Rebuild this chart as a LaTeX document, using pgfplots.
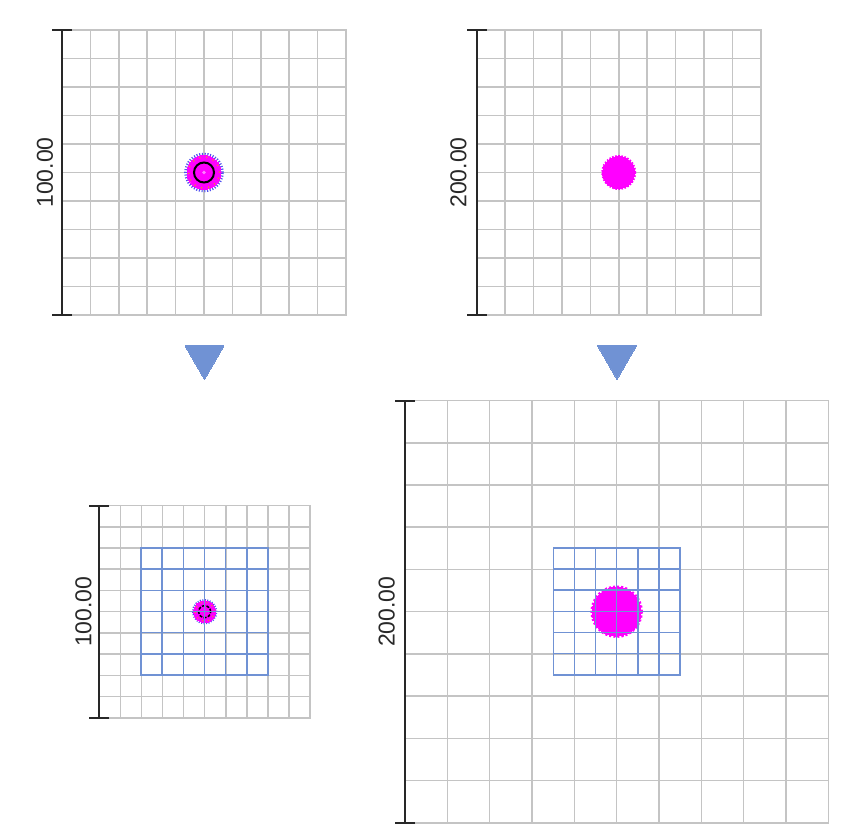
\documentclass[border=0pt]{standalone}
\usepackage{pgfplots}
\pgfplotsset{compat=1.18}
\usepackage{fontspec}
\setmainfont{Liberation Sans}
\definecolor{gridgray}{RGB}{196,196,196}
\definecolor{tri}{RGB}{112,146,212}
\definecolor{barblk}{RGB}{40,40,40}
\definecolor{spikeblue}{RGB}{80,80,240}
\definecolor{mag}{RGB}{255,0,255}
\definecolor{fleck}{RGB}{240,140,40}
\pgfplotsset{
 panel/.style={scale only axis, anchor=south west, clip=false,
   xmin=0,xmax=100,ymin=0,ymax=100,
   xtick={0,10,...,100}, ytick={0,10,...,100},
   xticklabels={}, yticklabels={},
   major tick length=0pt, tick style={draw=none},
   grid=major, major grid style={gridgray, line width=1.6pt},
   axis line style={gridgray, line width=1.6pt},
   ylabel style={anchor=south, inner sep=0pt, font=\fontsize{23}{27}\selectfont, text=barblk}},
 bluegrid/.style={scale only axis, anchor=south west, clip=false,
   xmin=0,xmax=6,ymin=0,ymax=6, xtick={0,...,6}, ytick={0,...,6},
   xticklabels={}, yticklabels={}, major tick length=0pt, tick style={draw=none},
   grid=major, major grid style={tri, line width=1.6pt},
   axis line style={tri, line width=1.6pt}},
 scalebar/.style={barblk, line width=1.9pt, mark=-, mark size=10pt, mark options={solid}},
}
\begin{document}
\begin{tikzpicture}
\useasboundingbox (0pt,0pt) rectangle (848pt,838pt);
% full canvas for the arrows
\begin{axis}[scale only axis, at={(0pt,0pt)}, anchor=south west, width=848pt, height=838pt,
  xmin=0,xmax=848,ymin=0,ymax=838, hide axis, clip=false]
\addplot[only marks, mark=triangle*, mark size=22.5pt, mark options={rotate=180, fill=tri, draw=tri, line width=0pt}] coordinates {(204.5,481) (617,481)};
\end{axis}

% Panel A
\begin{axis}[panel, at={(62pt,523pt)}, width=284pt, height=285pt, ylabel={100.00},
  ylabel style={at={(axis description cs:-0.031,0.5)}}]
\addplot[scalebar] coordinates {(0,0) (0,100)};
\addplot[only marks, mark=o, mark size=18.3pt, mark options={draw=spikeblue, line width=3pt, dash pattern=on 1.1pt off 1.6pt}] coordinates {(50,50)};
\addplot[only marks, mark=*, mark size=17pt, mark options={draw=mag, fill=mag, line width=0pt}] coordinates {(50,50)};
\addplot[only marks, mark=o, mark size=15.5pt, mark options={draw=fleck, line width=1.5pt, dash pattern=on 1pt off 6pt}] coordinates {(50,50)};
\addplot[only marks, mark=o, mark size=10pt, mark options={draw=black, line width=2pt}] coordinates {(50,50)};
\addplot[only marks, mark=*, mark size=1.5pt, mark options={draw=mag!50, fill=mag!50}] coordinates {(50,50)};
\end{axis}

% Panel B
\begin{axis}[panel, at={(476.7pt,523pt)}, width=284pt, height=285pt, ylabel={200.00},
  ylabel style={at={(axis description cs:-0.035,0.5)}}]
\addplot[scalebar] coordinates {(0,0) (0,100)};
\addplot[only marks, mark=o, mark size=16pt, mark options={draw=mag, line width=3pt, dash pattern=on 1.5pt off 1.5pt}] coordinates {(50,50)};
\addplot[only marks, mark=*, mark size=16pt, mark options={draw=mag, fill=mag, line width=0pt}] coordinates {(50,50)};
\end{axis}

% Panel C
\begin{axis}[panel, at={(99.3pt,120.3pt)}, width=210.7pt, height=212pt, ylabel={100.00},
  ylabel style={at={(axis description cs:-0.036,0.5)}}]
\addplot[scalebar] coordinates {(0,0) (0,100)};
\addplot[only marks, mark=o, mark size=11.5pt, mark options={draw=spikeblue, line width=2.5pt, dash pattern=on 1pt off 1.4pt}] coordinates {(50,50)};
\addplot[only marks, mark=*, mark size=11pt, mark options={draw=mag, fill=mag, line width=0pt}] coordinates {(50,50)};
\addplot[only marks, mark=o, mark size=9.5pt, mark options={draw=fleck, line width=1.2pt, dash pattern=on 1pt off 5pt}] coordinates {(50,50)};
\addplot[only marks, mark=o, mark size=6pt, mark options={draw=black, line width=1.5pt, dash pattern=on 3pt off 1.5pt}] coordinates {(50,50)};
\end{axis}
\begin{axis}[bluegrid, at={(141pt,163pt)}, width=127pt, height=127pt]
\end{axis}

% Panel D
\begin{axis}[panel, at={(405pt,15.3pt)}, width=423.3pt, height=422pt, ylabel={200.00},
  ylabel style={at={(axis description cs:-0.0236,0.5)}}]
\addplot[scalebar] coordinates {(0,0) (0,100)};
\addplot[only marks, mark=o, mark size=24.5pt, mark options={draw=mag, line width=3.5pt, dash pattern=on 2pt off 2pt}] coordinates {(50,50)};
\addplot[only marks, mark=*, mark size=24.5pt, mark options={draw=mag, fill=mag, line width=0pt}] coordinates {(50,50)};
\end{axis}
\begin{axis}[bluegrid, at={(553.3pt,163.3pt)}, width=126.7pt, height=126.7pt]
\end{axis}
\end{tikzpicture}
\end{document}
